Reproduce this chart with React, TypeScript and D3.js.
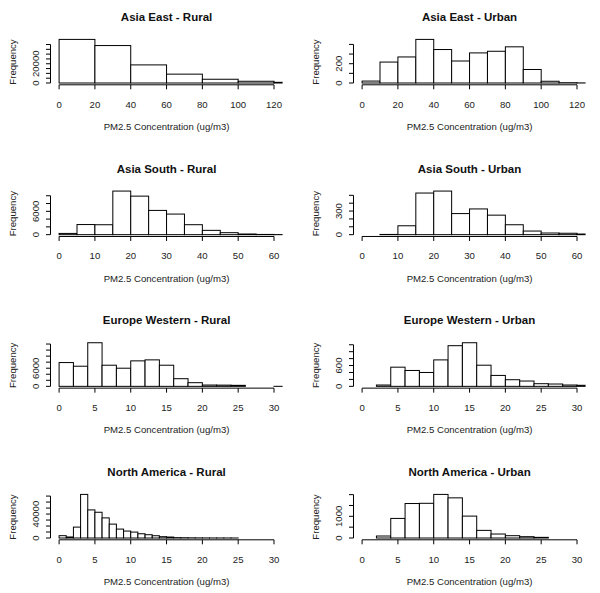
import React from "react";
import * as d3 from "d3";

// ---- data ----
const titles = [
  "Asia East - Rural",
  "Asia East - Urban",
  "Asia South - Rural",
  "Asia South - Urban",
  "Europe Western - Rural",
  "Europe Western - Urban",
  "North America - Rural",
  "North America - Urban",
];

const asiaEastRural = [45300, 38900, 18800, 9200, 3900, 1800, 700];
const asiaEastUrban = [20, 217, 270, 452, 347, 228, 312, 329, 375, 140, 18, 3, 1];
const asiaSouthRural = [320, 2600, 2550, 11200, 9900, 6230, 5290, 2560, 1110, 510, 170, 60, 20];
const asiaSouthUrban = [3, 113, 529, 554, 268, 327, 248, 126, 46, 21, 18, 8];
const europeWesternRural = [7870, 6660, 14430, 6990, 6000, 8430, 8760, 6990, 2530, 1210, 430, 400, 330, 0, 0, 5];
const europeWesternUrban = [38, 553, 458, 400, 763, 1173, 1258, 610, 315, 191, 153, 76, 67, 38, 30];
const northAmericaRural = [3900, 1700, 18200, 72800, 46900, 43000, 33600, 23200, 14900, 11600, 9900, 7100, 5500, 3800, 2200, 1600, 600, 450, 300, 200, 150, 100, 80, 60, 40];
const northAmericaUrban = [92, 903, 1590, 1600, 2010, 1851, 1010, 352, 184, 107, 61, 30];

const seriesValues = [
  asiaEastRural, asiaEastUrban, asiaSouthRural, asiaSouthUrban,
  europeWesternRural, europeWesternUrban, northAmericaRural, northAmericaUrban,
];
const binStarts = [0, 0, 0, 5, 0, 2, 0, 2];
const binWidths = [20, 10, 5, 5, 2, 2, 1, 2];
const xTickMax = [120, 120, 60, 60, 30, 30, 30, 30];
const xTickStep = [20, 20, 10, 10, 5, 5, 5, 5];
const yTickMax = [40000, 400, 10000, 500, 14000, 1200, 70000, 2000];
const yTickStep = [5000, 100, 2000, 100, 2000, 200, 10000, 500];
const yTickLabels = [
  [0, 20000], [0, 200], [0, 6000], [0, 300],
  [0, 6000], [0, 600], [0, 40000], [0, 1000],
];
const xLabel = "PM2.5 Concentration (ug/m3)";
const yLabel = "Frequency";

// ---- layout ----
const W = 600;
const H = 593;
const FONT = "'Liberation Sans', Arial, Helvetica, sans-serif";
const colLeft = [50.5, 353.5];
const plotW = 232.1;
const rowBase0 = 83;
const rowStep = 151.67;
const barMaxH = 43.6;

function Panel({ idx }: { idx: number }) {
  const col = idx % 2;
  const row = Math.floor(idx / 2);
  const left = colLeft[col];
  const right = left + plotW;
  const base = rowBase0 + row * rowStep;
  const pad = (plotW * 0.04) / 1.08;
  const values = seriesValues[idx];
  const maxV = d3.max(values) as number;

  const x = d3.scaleLinear().domain([0, xTickMax[idx]]).range([left + pad, right - pad]);
  const y = d3.scaleLinear().domain([0, maxV]).range([base, base - barMaxH]);

  const xTicks = d3.range(0, xTickMax[idx] + 1e-9, xTickStep[idx]);
  const yTicks = d3.range(0, yTickMax[idx] + 1e-9, yTickStep[idx]);
  const axisY = base + 1.8;
  const cx = (left + right) / 2;
  const clipId = `clip-${idx}`;
  const w = binWidths[idx];

  return (
    <g>
      <defs>
        <clipPath id={clipId}>
          <rect x={left} y={base - 60} width={plotW} height={63} />
        </clipPath>
      </defs>
      <text x={cx} y={base - 66} textAnchor="middle" dominantBaseline="central"
        fontFamily={FONT} fontWeight="bold" fontSize={11.5} fill="#111">
        {titles[idx]}
      </text>
      <g clipPath={`url(#${clipId})`}>
        {values.map((v, i) => {
          const x0 = binStarts[idx] + i * w;
          return (
            <rect key={i} x={x(x0)} y={y(v)} width={x(x0 + w) - x(x0)} height={base - y(v)}
              fill="white" stroke="#000" strokeWidth={1} />
          );
        })}
      </g>
      {/* x axis */}
      <line x1={x(xTicks[0])} x2={x(xTicks[xTicks.length - 1])} y1={axisY} y2={axisY} stroke="#000" strokeWidth={1} />
      {xTicks.map((t) => (
        <g key={t}>
          <line x1={x(t)} x2={x(t)} y1={axisY} y2={axisY + 4.5} stroke="#000" strokeWidth={1} />
          <text x={x(t)} y={base + 21} textAnchor="middle" dominantBaseline="central"
            fontFamily={FONT} fontSize={9.6} fill="#222">{t}</text>
        </g>
      ))}
      <text x={cx} y={base + 43.5} textAnchor="middle" dominantBaseline="central"
        fontFamily={FONT} fontSize={9.6} fill="#222">{xLabel}</text>
      {/* y axis */}
      <line x1={left} x2={left} y1={y(yTicks[0])} y2={y(yTicks[yTicks.length - 1])} stroke="#000" strokeWidth={1} />
      {yTicks.map((t) => (
        <line key={t} x1={left} x2={left - 4.5} y1={y(t)} y2={y(t)} stroke="#000" strokeWidth={1} />
      ))}
      {yTickLabels[idx].map((t) => (
        <text key={t} transform={`translate(${left - 15},${y(t)}) rotate(-90)`} textAnchor="middle"
          dominantBaseline="central" fontFamily={FONT} fontSize={9.6} fill="#222">{t}</text>
      ))}
      <text transform={`translate(${left - 38.5},${base - 21}) rotate(-90)`} textAnchor="middle"
        dominantBaseline="central" fontFamily={FONT} fontSize={9.6} fill="#222">{yLabel}</text>
    </g>
  );
}

export default function App() {
  return (
    <svg width={W} height={H} style={{ position: "absolute", left: 0, top: 0, background: "white" }}>
      <rect x={0} y={0} width={W} height={H} fill="white" />
      {titles.map((_, i) => (
        <Panel key={i} idx={i} />
      ))}
    </svg>
  );
}
